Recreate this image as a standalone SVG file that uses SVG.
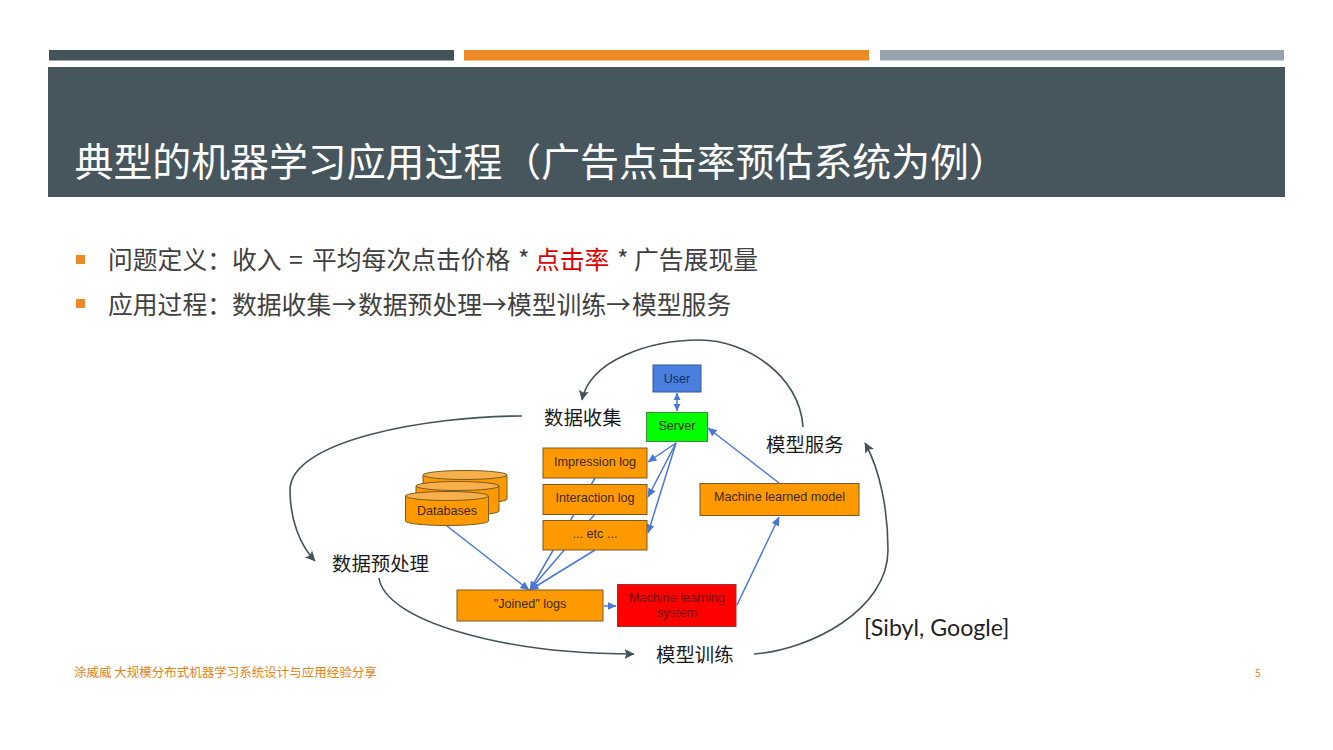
<svg xmlns="http://www.w3.org/2000/svg" width="1333" height="750" viewBox="0 0 1333 750">
<style>
text{font-family:"Noto Sans CJK SC","Noto Sans",sans-serif}
.box{fill:#ff9900;stroke:#7a5a20;stroke-width:1}
.bt{font-family:"Liberation Sans",Arial,sans-serif;font-size:12.600px;fill:#3a2a10;text-anchor:middle}
.blue{fill:none;stroke:#4a76d8;stroke-width:1.5}
.dark{fill:none;stroke:#44525a;stroke-width:1.6}
.lab{font-size:19.4px;fill:#1a1a1a}
.body{font-size:24.8px;fill:#404040}
.cyl{fill:#ff9900;stroke:#7a5a20;stroke-width:1}
.cap{fill:#f8b04a;stroke:#7a5a20;stroke-width:1}
.foot{font-size:12.500px;fill:#e48312}
</style>
<defs>
<marker id="bh" markerUnits="userSpaceOnUse" markerWidth="10" markerHeight="9" refX="8.500" refY="4.500" orient="auto-start-reverse"><path d="M0,0.500L9,4.500L0,8.500z" fill="#4a76d8"/></marker>
<marker id="bs" markerUnits="userSpaceOnUse" markerWidth="8" markerHeight="8" refX="7" refY="4" orient="auto-start-reverse"><path d="M0,0.500L7,4L0,7.500z" fill="#4a76d8"/></marker>
<marker id="dh" markerUnits="userSpaceOnUse" markerWidth="11" markerHeight="10" refX="9.5" refY="5" orient="auto"><path d="M0,0L10,5L0,10L2,5z" fill="#44525a"/></marker>
</defs>
<rect width="1333" height="750" fill="#ffffff"/>
<g id="header">
<rect x="49" y="50" width="405" height="10.500" fill="#44525a"/>
<rect x="464" y="50" width="405" height="10.500" fill="#ed8a25"/>
<rect x="880" y="50" width="404" height="10.500" fill="#9aa3ad"/>
<rect x="48" y="67" width="1237" height="130" fill="#47555c"/>
<text x="74.500" y="176" font-size="38.900" fill="#ffffff">典型的机器学习应用过程（广告点击率预估系统为例）</text>
</g>
<g id="bullets">
<rect x="76" y="255" width="9" height="9" fill="#ed8a25"/>
<rect x="76" y="299" width="9" height="9" fill="#ed8a25"/>
<text class="body" x="108" y="269">问题定义：收入</text>
<text class="body" x="289" y="269">=</text>
<text class="body" x="312" y="269">平均每次点击价格</text>
<text class="body" x="518" y="269">*</text>
<text class="body" x="535" y="269" style="fill:#e00000">点击率</text>
<text class="body" x="617" y="269">*</text>
<text class="body" x="634" y="269">广告展现量</text>
<text class="body" x="108" y="314">应用过程：数据收集</text>
<text class="body" x="332" y="314">→</text>
<text class="body" x="358" y="314">数据预处理</text>
<text class="body" x="482" y="314">→</text>
<text class="body" x="507" y="314">模型训练</text>
<text class="body" x="606" y="314">→</text>
<text class="body" x="632" y="314">模型服务</text>
</g>
<g id="connectors">
<path class="dark" marker-end="url(#dh)" d="M803,427C800,375 745,340 700,340C650,340 590,360 582,400"/>
<path class="dark" marker-end="url(#dh)" d="M522,416C430,416 290,440 290,490C290,520 300,545 315,561"/>
<path class="dark" marker-end="url(#dh)" d="M379,578C385,620 500,654 634,654"/>
<path class="dark" marker-end="url(#dh)" d="M754,654C810,650 888,610 888,550C888,510 880,470 865,443"/>
<path class="blue" marker-start="url(#bs)" marker-end="url(#bs)" d="M677,393L677,411"/>
<path class="blue" marker-end="url(#bh)" d="M676,443L648,462"/>
<path class="blue" marker-end="url(#bh)" d="M676,443L648,497"/>
<path class="blue" marker-end="url(#bh)" d="M676,443L648,533"/>
<path class="blue" marker-end="url(#bh)" d="M779,483L708,428"/>
<path class="blue" marker-end="url(#bh)" d="M737,605L779,517"/>
<path class="blue" marker-end="url(#bh)" d="M604,606L616,606"/>
<path class="blue" marker-end="url(#bh)" d="M447,526L529,590"/>
<path class="blue" marker-end="url(#bh)" d="M595,478L530,590"/>
<path class="blue" marker-end="url(#bh)" d="M595,514L530,590"/>
<path class="blue" marker-end="url(#bh)" d="M595,550L530,590"/>
</g>
<g id="user"><rect x="653" y="365" width="48" height="27" fill="#4a7fe0" stroke="#2f5a9a"/><text class="bt" x="677" y="383" style="fill:#10305a">User</text></g>
<g id="server"><rect x="646.500" y="412.500" width="61" height="29" fill="#00ff00" stroke="#3a8a3a"/><text class="bt" x="677" y="430">Server</text></g>
<g id="impression"><rect class="box" x="543" y="448" width="104" height="30"/><text class="bt" x="595" y="466">Impression log</text></g>
<g id="interaction"><rect class="box" x="543" y="484.500" width="104" height="30"/><text class="bt" x="595" y="502">Interaction log</text></g>
<g id="etc"><rect class="box" x="543" y="520.500" width="104" height="29.500"/><text class="bt" x="595" y="538">... etc ...</text></g>
<g id="databases">
<path class="cyl" d="M423,475V499A42,4.500 0 0 0 507,499V475z"/><ellipse class="cap" cx="465" cy="475" rx="42" ry="4.500"/>
<path class="cyl" d="M416,486V511A41.500,4.500 0 0 0 499,511V486z"/><ellipse class="cap" cx="457.500" cy="486" rx="41.500" ry="4.500"/>
<path class="cyl" d="M405.500,496V521A41.500,4.500 0 0 0 488.500,521V496z"/><ellipse class="cap" cx="447" cy="496" rx="41.500" ry="4.500"/>
<text class="bt" x="447" y="515">Databases</text>
</g>
<g id="joined"><rect class="box" x="457" y="590" width="146" height="31"/><text class="bt" x="530" y="608">"Joined" logs</text></g>
<g id="mlsystem"><rect x="617.500" y="584.500" width="118.500" height="42" fill="#ff0000" stroke="#a03030"/><text class="bt" x="677" y="602" style="fill:#6e1010">Machine learning</text><text class="bt" x="677" y="617" style="fill:#6e1010">system</text></g>
<g id="model"><rect class="box" x="700" y="483.500" width="159" height="32"/><text class="bt" x="779.500" y="501">Machine learned model</text></g>
<g id="labels">
<text class="lab" x="544" y="425">数据收集</text>
<text class="lab" x="766" y="452">模型服务</text>
<text class="lab" x="332" y="571">数据预处理</text>
<text class="lab" x="656" y="662">模型训练</text>
<text x="864" y="636" font-size="23.200" fill="#222222" style="font-family:Lato,'Open Sans',sans-serif">[Sibyl, Google]</text>
</g>
<g id="footer">
<text class="foot" x="74" y="677">涂威威 大规模分布式机器学习系统设计与应用经验分享</text>
<text class="foot" x="1255" y="677" style="font-size:10px">5</text>
</g>
</svg>
